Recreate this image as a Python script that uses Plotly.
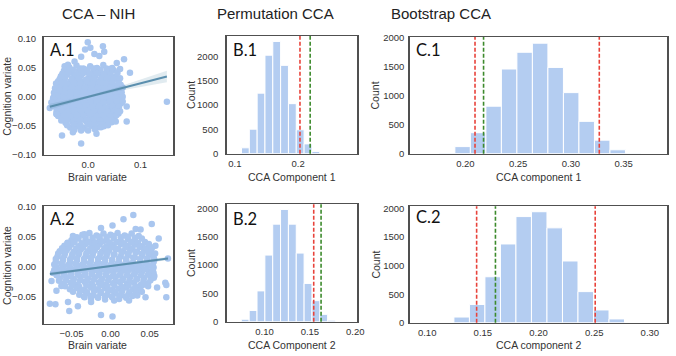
import plotly.graph_objects as go
import numpy as np

W, H = 676, 356

# ---------------- A.1 : CCA - NIH, component 1 (brain variate vs cognition variate)
a1_core = [
    (-0.036, 0.051), (-0.022, 0.054), (-0.009, 0.049), (0.004, 0.053), (0.017, 0.050), (0.029, 0.055), (0.041, 0.048),
    (-0.046, 0.045), (-0.031, 0.042), (-0.017, 0.046), (-0.003, 0.043), (0.010, 0.045), (0.023, 0.041), (0.036, 0.044), (0.049, 0.046),
    (-0.052, 0.035), (-0.040, 0.038), (-0.027, 0.034), (-0.013, 0.037), (0.001, 0.033), (0.014, 0.036), (0.027, 0.034), (0.039, 0.037), (0.053, 0.035),
    (-0.057, 0.027), (-0.045, 0.029), (-0.034, 0.026), (-0.021, 0.030), (-0.008, 0.027), (0.006, 0.029), (0.019, 0.026), (0.031, 0.028), (0.044, 0.030), (0.058, 0.027),
    (-0.059, 0.019), (-0.049, 0.021), (-0.037, 0.018), (-0.024, 0.022), (-0.012, 0.019), (0.001, 0.021), (0.013, 0.018), (0.026, 0.020), (0.039, 0.022), (0.052, 0.019), (0.062, 0.021),
    (-0.062, 0.011), (-0.051, 0.013), (-0.040, 0.010), (-0.028, 0.014), (-0.015, 0.011), (-0.003, 0.013), (0.010, 0.010), (0.022, 0.012), (0.035, 0.014), (0.047, 0.011), (0.059, 0.013),
    (-0.063, 0.003), (-0.053, 0.005), (-0.042, 0.002), (-0.030, 0.006), (-0.018, 0.003), (-0.006, 0.005), (0.007, 0.002), (0.019, 0.004), (0.032, 0.006), (0.044, 0.003), (0.056, 0.005), (0.064, 0.002),
    (-0.062, -0.005), (-0.051, -0.003), (-0.039, -0.006), (-0.027, -0.002), (-0.015, -0.005), (-0.002, -0.003), (0.010, -0.006), (0.023, -0.004), (0.035, -0.002), (0.048, -0.005), (0.060, -0.003),
    (-0.060, -0.013), (-0.048, -0.011), (-0.036, -0.014), (-0.023, -0.010), (-0.011, -0.013), (0.002, -0.011), (0.014, -0.014), (0.027, -0.012), (0.040, -0.010), (0.052, -0.013), (0.063, -0.011),
    (-0.057, -0.021), (-0.045, -0.019), (-0.033, -0.022), (-0.020, -0.018), (-0.007, -0.021), (0.005, -0.019), (0.018, -0.022), (0.031, -0.020), (0.043, -0.018), (0.055, -0.021),
    (-0.054, -0.029), (-0.042, -0.027), (-0.029, -0.030), (-0.016, -0.026), (-0.004, -0.029), (0.009, -0.027), (0.022, -0.030), (0.034, -0.028), (0.047, -0.026), (0.058, -0.029),
    (-0.049, -0.037), (-0.037, -0.035), (-0.024, -0.038), (-0.011, -0.034), (0.002, -0.037), (0.014, -0.035), (0.027, -0.038), (0.040, -0.036), (0.051, -0.034),
    (-0.043, -0.045), (-0.030, -0.043), (-0.017, -0.046), (-0.004, -0.042), (0.009, -0.045), (0.021, -0.043), (0.033, -0.046), (0.045, -0.044),
    (-0.034, -0.053), (-0.020, -0.051), (-0.007, -0.054), (0.006, -0.050), (0.018, -0.053), (0.030, -0.051),
]
a1_fill = [
    (-0.041, 0.048), (-0.029, 0.047), (-0.015, 0.049), (-0.002, 0.047), (0.011, 0.049), (0.023, 0.047), (0.035, 0.049), (0.046, 0.050),
    (-0.049, 0.040), (-0.037, 0.041), (-0.023, 0.039), (-0.009, 0.041), (0.004, 0.039), (0.017, 0.041), (0.030, 0.040), (0.043, 0.039), (0.056, 0.041),
    (-0.054, 0.031), (-0.044, 0.033), (-0.031, 0.031), (-0.017, 0.032), (-0.003, 0.030), (0.011, 0.032), (0.024, 0.031), (0.036, 0.032), (0.049, 0.031), (0.061, 0.032),
    (-0.061, 0.023), (-0.051, 0.024), (-0.040, 0.022), (-0.028, 0.024), (-0.015, 0.023), (-0.002, 0.025), (0.009, 0.023), (0.021, 0.024), (0.033, 0.023), (0.046, 0.024), (0.058, 0.023),
    (-0.063, 0.015), (-0.054, 0.016), (-0.043, 0.014), (-0.031, 0.016), (-0.018, 0.015), (-0.006, 0.016), (0.007, 0.014), (0.019, 0.016), (0.031, 0.015), (0.043, 0.016), (0.056, 0.015), (0.066, 0.016),
    (-0.065, 0.007), (-0.056, 0.008), (-0.046, 0.006), (-0.034, 0.008), (-0.021, 0.007), (-0.009, 0.008), (0.004, 0.006), (0.016, 0.008), (0.028, 0.007), (0.041, 0.008), (0.053, 0.007), (0.064, 0.008),
    (-0.066, -0.001), (-0.057, 0.000), (-0.046, -0.002), (-0.034, 0.000), (-0.022, -0.001), (-0.010, 0.001), (0.003, -0.001), (0.016, 0.000), (0.029, -0.001), (0.041, 0.001), (0.053, -0.001), (0.066, 0.000),
    (-0.065, -0.009), (-0.056, -0.008), (-0.045, -0.010), (-0.033, -0.008), (-0.021, -0.009), (-0.008, -0.007), (0.004, -0.009), (0.017, -0.008), (0.029, -0.010), (0.042, -0.008), (0.054, -0.009), (0.066, -0.008),
    (-0.063, -0.017), (-0.054, -0.016), (-0.042, -0.018), (-0.029, -0.016), (-0.017, -0.017), (-0.004, -0.015), (0.008, -0.017), (0.021, -0.016), (0.034, -0.018), (0.046, -0.016), (0.059, -0.017),
    (-0.060, -0.025), (-0.051, -0.024), (-0.039, -0.026), (-0.026, -0.024), (-0.013, -0.025), (-0.001, -0.023), (0.012, -0.025), (0.025, -0.024), (0.037, -0.026), (0.050, -0.024), (0.061, -0.025),
    (-0.057, -0.033), (-0.046, -0.032), (-0.034, -0.034), (-0.021, -0.032), (-0.009, -0.033), (0.004, -0.031), (0.017, -0.033), (0.029, -0.032), (0.042, -0.034), (0.054, -0.032),
    (-0.051, -0.041), (-0.040, -0.040), (-0.027, -0.042), (-0.014, -0.040), (-0.002, -0.041), (0.011, -0.039), (0.023, -0.041), (0.036, -0.040), (0.048, -0.041),
    (-0.040, -0.049), (-0.027, -0.048), (-0.014, -0.050), (-0.001, -0.048), (0.012, -0.049), (0.024, -0.048), (0.038, -0.049),
    (-0.026, -0.057), (-0.012, -0.056), (0.000, -0.058), (0.013, -0.056),
]
a1_outer = [
    (-0.0006, 0.0944), (0.0044, 0.0850), (-0.0057, 0.0817), (0.0283, 0.0873), (0.0308, 0.0778), (0.0214, 0.0706),
    (0.0120, 0.0739), (-0.0132, 0.0694), (-0.0258, 0.0611), (-0.0447, 0.0528), (-0.0384, 0.0556), (0.0686, 0.0650),
    (0.0547, 0.0583), (0.0799, 0.0417), (0.0610, 0.0483), (0.1503, -0.0083), (0.0736, -0.0167), (0.0560, -0.0250),
    (0.0528, -0.0428), (0.0736, -0.0428), (0.0245, -0.0528), (0.0044, -0.0472), (-0.0132, -0.0583), (-0.0289, -0.0611),
    (-0.0497, -0.0667), (-0.0132, -0.0806), (-0.0730, -0.0194), (-0.0604, -0.0294), (-0.0667, -0.0028), (-0.0541, 0.0111),
    (-0.0509, 0.0361), (0.0160, -0.0640), (-0.0600, -0.0300), (-0.0700, -0.0100),
]
a1_x = [p[0] for p in a1_core + a1_fill + a1_outer]
a1_y = [p[1] for p in a1_core + a1_fill + a1_outer]
a1_reg_intercept = 0.0
a1_reg_slope = 0.234
a1_ci_x = [-0.073, -0.03, 0.0, 0.05, 0.10, 0.1503]
a1_ci_half = [0.005, 0.003, 0.002, 0.003, 0.006, 0.010]

# ---------------- A.2 : CCA - NIH, component 2
a2_core = [
    (-0.036, 0.053), (-0.027, 0.056), (-0.018, 0.052), (-0.009, 0.055), (0.000, 0.053), (0.009, 0.056), (0.018, 0.052), (0.027, 0.055),
    (-0.050, 0.044), (-0.041, 0.047), (-0.032, 0.045), (-0.023, 0.043), (-0.014, 0.046), (-0.005, 0.044), (0.004, 0.047), (0.013, 0.043), (0.022, 0.046), (0.031, 0.044), (0.040, 0.047),
    (-0.059, 0.035), (-0.050, 0.037), (-0.041, 0.034), (-0.032, 0.038), (-0.023, 0.035), (-0.014, 0.037), (-0.005, 0.034), (0.004, 0.036), (0.013, 0.038), (0.022, 0.035), (0.031, 0.037), (0.040, 0.034), (0.049, 0.036),
    (-0.065, 0.026), (-0.056, 0.028), (-0.047, 0.025), (-0.038, 0.029), (-0.029, 0.026), (-0.020, 0.028), (-0.011, 0.025), (-0.002, 0.027), (0.007, 0.029), (0.016, 0.026), (0.025, 0.028), (0.034, 0.025), (0.043, 0.027), (0.052, 0.029),
    (-0.068, 0.017), (-0.059, 0.019), (-0.050, 0.016), (-0.041, 0.020), (-0.032, 0.017), (-0.023, 0.019), (-0.014, 0.016), (-0.005, 0.018), (0.004, 0.020), (0.013, 0.017), (0.022, 0.019), (0.031, 0.016), (0.040, 0.018), (0.049, 0.020), (0.055, 0.016),
    (-0.070, 0.008), (-0.061, 0.010), (-0.052, 0.007), (-0.043, 0.011), (-0.034, 0.008), (-0.025, 0.010), (-0.016, 0.007), (-0.007, 0.009), (0.002, 0.011), (0.011, 0.008), (0.020, 0.010), (0.029, 0.007), (0.038, 0.009), (0.047, 0.011), (0.055, 0.008),
    (-0.069, -0.001), (-0.060, 0.001), (-0.051, -0.002), (-0.042, 0.002), (-0.033, -0.001), (-0.024, 0.001), (-0.015, -0.002), (-0.006, 0.000), (0.003, 0.002), (0.012, -0.001), (0.021, 0.001), (0.030, -0.002), (0.039, 0.000), (0.048, 0.002), (0.055, -0.001),
    (-0.068, -0.010), (-0.059, -0.008), (-0.050, -0.011), (-0.041, -0.007), (-0.032, -0.010), (-0.023, -0.008), (-0.014, -0.011), (-0.005, -0.009), (0.004, -0.007), (0.013, -0.010), (0.022, -0.008), (0.031, -0.011), (0.040, -0.009), (0.049, -0.007), (0.055, -0.010),
    (-0.065, -0.019), (-0.056, -0.017), (-0.047, -0.020), (-0.038, -0.016), (-0.029, -0.019), (-0.020, -0.017), (-0.011, -0.020), (-0.002, -0.018), (0.007, -0.016), (0.016, -0.019), (0.025, -0.017), (0.034, -0.020), (0.043, -0.018), (0.052, -0.016),
    (-0.060, -0.028), (-0.051, -0.026), (-0.042, -0.029), (-0.033, -0.025), (-0.024, -0.028), (-0.015, -0.026), (-0.006, -0.029), (0.003, -0.027), (0.012, -0.025), (0.021, -0.028), (0.030, -0.026), (0.039, -0.029), (0.048, -0.027),
    (-0.052, -0.037), (-0.043, -0.035), (-0.034, -0.038), (-0.025, -0.034), (-0.016, -0.037), (-0.007, -0.035), (0.002, -0.038), (0.011, -0.036), (0.020, -0.034), (0.029, -0.037), (0.038, -0.035),
    (-0.040, -0.046), (-0.031, -0.044), (-0.022, -0.047), (-0.013, -0.043), (-0.004, -0.046), (0.005, -0.044), (0.014, -0.047), (0.023, -0.045), (0.032, -0.043),
    (-0.025, -0.053), (-0.016, -0.051), (-0.007, -0.054), (0.002, -0.050), (0.011, -0.053), (0.020, -0.051),
]
a2_fill = [
    (-0.043, 0.049), (-0.032, 0.050), (-0.023, 0.048), (-0.014, 0.050), (-0.005, 0.049), (0.004, 0.051), (0.013, 0.049), (0.022, 0.050), (0.031, 0.048), (0.036, 0.051),
    (-0.055, 0.040), (-0.046, 0.041), (-0.037, 0.039), (-0.028, 0.041), (-0.019, 0.040), (-0.010, 0.042), (-0.001, 0.040), (0.008, 0.041), (0.017, 0.039), (0.026, 0.041), (0.035, 0.040), (0.044, 0.041),
    (-0.062, 0.031), (-0.053, 0.032), (-0.044, 0.030), (-0.035, 0.032), (-0.026, 0.031), (-0.017, 0.033), (-0.008, 0.031), (0.001, 0.032), (0.010, 0.030), (0.019, 0.032), (0.028, 0.031), (0.037, 0.033), (0.046, 0.031), (0.053, 0.032),
    (-0.067, 0.022), (-0.058, 0.023), (-0.049, 0.021), (-0.040, 0.023), (-0.031, 0.022), (-0.022, 0.024), (-0.013, 0.022), (-0.004, 0.023), (0.005, 0.021), (0.014, 0.023), (0.023, 0.022), (0.032, 0.024), (0.041, 0.022), (0.050, 0.023), (0.057, 0.022),
    (-0.070, 0.013), (-0.061, 0.014), (-0.052, 0.012), (-0.043, 0.014), (-0.034, 0.013), (-0.025, 0.015), (-0.016, 0.013), (-0.007, 0.014), (0.002, 0.012), (0.011, 0.014), (0.020, 0.013), (0.029, 0.015), (0.038, 0.013), (0.047, 0.014), (0.056, 0.012),
    (-0.072, 0.004), (-0.063, 0.005), (-0.054, 0.003), (-0.045, 0.005), (-0.036, 0.004), (-0.027, 0.006), (-0.018, 0.004), (-0.009, 0.005), (0.000, 0.003), (0.009, 0.005), (0.018, 0.004), (0.027, 0.006), (0.036, 0.004), (0.045, 0.005), (0.054, 0.003),
    (-0.072, -0.005), (-0.063, -0.004), (-0.054, -0.006), (-0.045, -0.004), (-0.036, -0.005), (-0.027, -0.003), (-0.018, -0.005), (-0.009, -0.004), (0.000, -0.006), (0.009, -0.004), (0.018, -0.005), (0.027, -0.003), (0.036, -0.005), (0.045, -0.004), (0.054, -0.006),
    (-0.069, -0.014), (-0.060, -0.013), (-0.051, -0.015), (-0.042, -0.013), (-0.033, -0.014), (-0.024, -0.012), (-0.015, -0.014), (-0.006, -0.013), (0.003, -0.015), (0.012, -0.013), (0.021, -0.014), (0.030, -0.012), (0.039, -0.014), (0.048, -0.013), (0.056, -0.015),
    (-0.066, -0.023), (-0.057, -0.022), (-0.048, -0.024), (-0.039, -0.022), (-0.030, -0.023), (-0.021, -0.021), (-0.012, -0.023), (-0.003, -0.022), (0.006, -0.024), (0.015, -0.022), (0.024, -0.023), (0.033, -0.021), (0.042, -0.023), (0.051, -0.022),
    (-0.058, -0.032), (-0.049, -0.031), (-0.040, -0.033), (-0.031, -0.031), (-0.022, -0.032), (-0.013, -0.030), (-0.004, -0.032), (0.005, -0.031), (0.014, -0.033), (0.023, -0.031), (0.032, -0.032), (0.041, -0.030), (0.048, -0.032),
    (-0.048, -0.041), (-0.039, -0.040), (-0.030, -0.042), (-0.021, -0.040), (-0.012, -0.041), (-0.003, -0.039), (0.006, -0.041), (0.015, -0.040), (0.024, -0.042), (0.033, -0.040), (0.040, -0.041),
    (-0.034, -0.049), (-0.025, -0.048), (-0.016, -0.050), (-0.007, -0.048), (0.002, -0.049), (0.011, -0.047), (0.020, -0.049), (0.028, -0.048),
]
a2_outer = [
    (0.0291, 0.0857), (0.0165, 0.0788), (-0.0122, 0.0644), (0.0025, 0.0682), (0.0321, 0.0628), (0.0384, 0.0618),
    (-0.0481, 0.0511), (-0.0333, 0.0538), (0.0616, 0.0469), (0.0574, 0.0351), (0.0489, 0.0378), (0.0527, 0.0708),
    (0.0700, -0.0261), (0.0553, -0.0181), (-0.0734, -0.0101), (-0.0755, -0.0234), (-0.0692, -0.0394), (-0.0776, -0.0607),
    (-0.0705, -0.0618), (-0.0544, -0.0580), (-0.0418, -0.0650), (-0.0333, -0.0500), (-0.0249, -0.0580), (-0.0122, -0.0793),
    (0.0025, -0.0820), (0.0046, -0.0554), (0.0236, -0.0554), (0.0342, -0.0474), (0.0447, -0.0500), (0.0713, -0.0500),
    (0.0595, -0.0341), (0.0734, 0.0138), (-0.0629, -0.0314), (-0.0528, -0.0730), (-0.0550, 0.0390), (0.0713, -0.0300),
]
a2_x = [p[0] for p in a2_core + a2_fill + a2_outer]
a2_y = [p[1] for p in a2_core + a2_fill + a2_outer]
a2_reg_intercept = 0.0014
a2_reg_slope = 0.169
a2_ci_x = [-0.0776, 0.0, 0.0734]
a2_ci_half = [0.003, 0.0015, 0.003]

# ---------------- Permutation CCA histograms
b1_start, b1_width = 0.1105, 0.01236
b1_counts = [121, 505, 1246, 2027, 2310, 1818, 1030, 492, 202, 47]
b1_red, b1_green = [0.2029], [0.2190]

b2_start, b2_width = 0.0744, 0.00865
b2_counts = [46, 201, 546, 1178, 1724, 1983, 1724, 1213, 678, 374, 132, 29]
b2_red, b2_green = [0.1542], [0.1623]

# ---------------- Bootstrap CCA histograms
c1_start, c1_width = 0.1753, 0.0147
c1_counts = [11, 122, 361, 817, 1456, 1744, 1900, 1483, 1050, 556, 233, 67, 8]
c1_red, c1_green = [0.2091, 0.3269], [0.2172]

c2_start, c2_width = 0.1240, 0.01393
c2_counts = [101, 321, 806, 1380, 1859, 1944, 1662, 1082, 546, 225, 68]
c2_red, c2_green = [0.1444, 0.2509], [0.1613]

# ---------------- styling
PT = '#a9c6ef'
BAR = '#b4cdf1'
REG = '#5b8fae'
RED = '#e8433b'
GREEN = '#3d8a2c'
FRAME = '#505050'
TICKF = dict(family='Liberation Sans, Arial, sans-serif', size=9.5, color='#333333')

fig = go.Figure()


def px_x(a, b):
    return [a / W, b / W]


def px_y(top, bottom):
    return [1 - bottom / H, 1 - top / H]


def scatter_panel(xs, ys, icpt, slope, ci_x, ci_h, ax):
    xa, ya = ('x' + ax, 'y' + ax) if ax else ('x', 'y')
    fig.add_trace(go.Scatter(x=xs, y=ys, mode='markers', xaxis=xa, yaxis=ya,
                             marker=dict(size=6.5, color=PT, line=dict(width=0)), showlegend=False))
    cx = np.array(ci_x)
    ch = np.array(ci_h)
    up = icpt + slope * cx + ch
    lo = icpt + slope * cx - ch
    fig.add_trace(go.Scatter(x=list(cx) + list(cx[::-1]), y=list(up) + list(lo[::-1]), fill='toself',
                             mode='lines', line=dict(width=0), fillcolor='rgba(91,143,174,0.18)',
                             xaxis=xa, yaxis=ya, showlegend=False))
    lx = np.array([min(xs), max(xs)])
    fig.add_trace(go.Scatter(x=lx, y=icpt + slope * lx, mode='lines', line=dict(color=REG, width=2),
                             xaxis=xa, yaxis=ya, showlegend=False))


def hist_panel(start, width, counts, reds, greens, ax):
    xa, ya = 'x' + ax, 'y' + ax
    centers = [start + width * (i + 0.5) for i in range(len(counts))]
    fig.add_trace(go.Bar(x=centers, y=counts, width=width, xaxis=xa, yaxis=ya,
                         marker=dict(color=BAR, line=dict(color='white', width=1)), showlegend=False))
    for v, c in [(r, RED) for r in reds] + [(g, GREEN) for g in greens]:
        fig.add_shape(type='line', xref=xa, yref=ya + ' domain', x0=v, x1=v, y0=0, y1=1,
                      line=dict(color=c, width=1.6, dash='4px,2px'))


scatter_panel(a1_x, a1_y, a1_reg_intercept, a1_reg_slope, a1_ci_x, a1_ci_half, '')
hist_panel(b1_start, b1_width, b1_counts, b1_red, b1_green, '2')
hist_panel(c1_start, c1_width, c1_counts, c1_red, c1_green, '3')
scatter_panel(a2_x, a2_y, a2_reg_intercept, a2_reg_slope, a2_ci_x, a2_ci_half, '4')
hist_panel(b2_start, b2_width, b2_counts, b2_red, b2_green, '5')
hist_panel(c2_start, c2_width, c2_counts, c2_red, c2_green, '6')


def axis(dom, rng, tv, tt, anchor, standoff):
    return dict(domain=dom, range=rng, tickvals=tv, ticktext=tt, anchor=anchor,
                showline=True, mirror=True, linecolor=FRAME, linewidth=1.5,
                showgrid=False, zeroline=False, ticks='', tickfont=TICKF,
                ticklabelstandoff=standoff, fixedrange=True)


M = '\u2212'
cnt_v = [0, 500, 1000, 1500, 2000]
cnt_t = ['0', '500', '1000', '1500', '2000']

fig.update_layout(
    width=W, height=H, margin=dict(l=0, r=0, t=0, b=0),
    paper_bgcolor='white', plot_bgcolor='white', bargap=0,
    xaxis=axis(px_x(44, 175), [-0.0849, 0.1623], [0.0, 0.1], ['0.0', '0.1'], 'y', 0),
    yaxis=axis(px_y(33, 154), [-0.1, 0.1033], [-0.1, -0.05, 0, 0.05, 0.1],
               [M + '0.10', M + '0.05', '0.00', '0.05', '0.10'], 'x', 4),
    xaxis2=axis(px_x(229, 361), [0.087, 0.2934], [0.1, 0.2], ['0.1', '0.2'], 'y2', 0),
    yaxis2=axis(px_y(32, 153), [0, 2420], cnt_v, cnt_t, 'x2', 5),
    xaxis3=axis(px_x(414, 674), [0.1472, 0.3911], [0.20, 0.25, 0.30, 0.35], ['0.20', '0.25', '0.30', '0.35'], 'y3', 0),
    yaxis3=axis(px_y(33, 153), [0, 2005], cnt_v, cnt_t, 'x3', 2),
    xaxis4=axis(px_x(44, 175), [-0.0857, 0.0801], [-0.05, 0.0, 0.05], [M + '0.05', '0.00', '0.05'], 'y4', 0),
    yaxis4=axis(px_y(207, 328), [-0.094, 0.1003], [-0.05, 0, 0.05, 0.1], [M + '0.05', '0.00', '0.05', '0.10'], 'x4', 4),
    xaxis5=axis(px_x(229, 361), [0.0582, 0.2022], [0.10, 0.15, 0.20], ['0.10', '0.15', '0.20'], 'y5', 0),
    yaxis5=axis(px_y(205, 326), [0, 2075], cnt_v, cnt_t, 'x5', 5),
    xaxis6=axis(px_x(414, 674), [0.0843, 0.3154], [0.10, 0.15, 0.20, 0.25, 0.30],
                ['0.10', '0.15', '0.20', '0.25', '0.30'], 'y6', 0),
    yaxis6=axis(px_y(207, 327), [0, 2041], cnt_v, cnt_t, 'x6', 2),
)

ann = []
TF = dict(family='Liberation Sans, Arial, sans-serif', size=15, color='#222222')
AF = dict(family='Liberation Sans, Arial, sans-serif', size=10.5, color='#333333')
LF = dict(family='Lato, Open Sans, sans-serif', size=16.5, color='#111111')


def A(x, y, text, font, angle=0, xanchor='center', yanchor='middle'):
    ann.append(dict(x=x / W, y=1 - y / H, xref='paper', yref='paper', text=text, showarrow=False,
                    font=font, textangle=angle, xanchor=xanchor, yanchor=yanchor))


A(99.5, 9, 'CCA \u2013 NIH', TF)
A(278.5, 9, 'Permutation CCA', TF)
A(446, 9, 'Bootstrap CCA', TF)

A(99, 176.5, 'Brain variate', AF)
A(99, 350, 'Brain variate', AF)
A(295, 176.5, 'CCA Component 1', AF)
A(295, 349.5, 'CCA Component 2', AF)
A(544, 177, 'CCA component 1', AF)
A(544, 349.5, 'CCA component 2', AF)
A(7, 93.5, 'Cognition variate', AF, -90)
A(7, 267.5, 'Cognition variate', AF, -90)
A(193, 92.5, 'Count', AF, -90)
A(193, 265.5, 'Count', AF, -90)
A(379, 93, 'Count', AF, -90)
A(379, 267, 'Count', AF, -90)

for (lx, ly, t) in [(48, 34, 'A.1'), (233, 34, 'B.1'), (418, 34, 'C.1'),
                    (48, 208, 'A.2'), (233, 208, 'B.2'), (418, 206, 'C.2')]:
    A(lx, ly, t, LF, xanchor='left', yanchor='top')

fig.update_layout(annotations=ann)
fig.write_html('out.html', config={'displayModeBar': False, 'staticPlot': True},
               post_script="document.body.style.margin='0px';document.body.style.overflow='hidden';")
